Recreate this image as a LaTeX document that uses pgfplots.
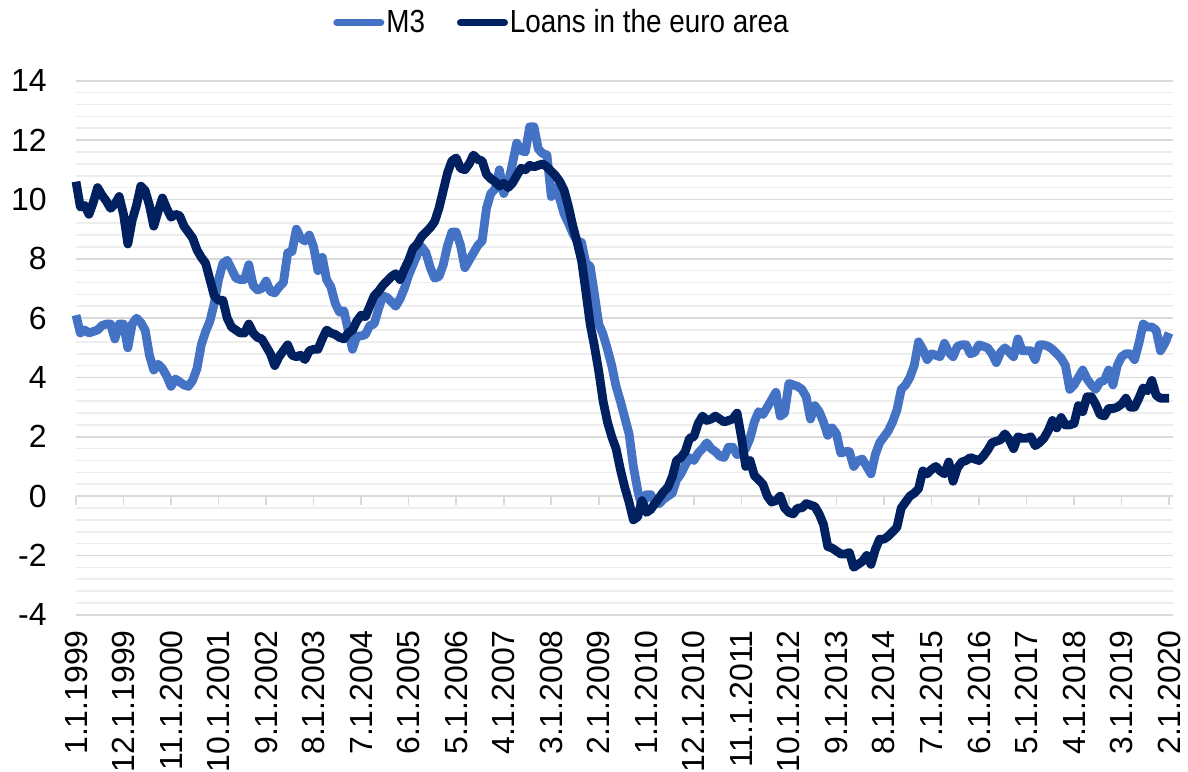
\documentclass[border=0pt]{standalone}
\usepackage{fontspec}
\setmainfont{Liberation Sans}
\newfontfamily\legendfont[FakeStretch=0.87]{Liberation Sans}
\usepackage{pgfplots}
\pgfplotsset{compat=1.18}
\usepackage{pgfplotstable}

\definecolor{mthree}{RGB}{68,114,196}
\definecolor{loans}{RGB}{0,32,96}
\definecolor{majgrid}{RGB}{217,217,217}
\definecolor{mingrid}{RGB}{238,238,238}

% month index (0 = Jan 1999), annual growth in %
\pgfplotstableread{
i v
0 6.1
1 5.5
2 5.6
3 5.5
4 5.55
5 5.6
6 5.75
7 5.8
8 5.8
9 5.3
10 5.8
11 5.8
12 5.0
13 5.8
14 6.0
15 5.85
16 5.6
17 4.75
18 4.25
19 4.45
20 4.3
21 4.05
22 3.7
23 3.95
24 3.85
25 3.75
26 3.7
27 3.9
28 4.3
29 5.1
30 5.55
31 5.9
32 6.5
33 7.3
34 7.85
35 7.95
36 7.65
37 7.35
38 7.3
39 7.3
40 7.8
41 7.1
42 6.95
43 7.0
44 7.25
45 6.9
46 6.85
47 7.05
48 7.2
49 8.2
50 8.25
51 9.0
52 8.7
53 8.6
54 8.8
55 8.4
56 7.6
57 8.05
58 7.3
59 7.05
60 6.5
61 6.2
62 6.25
63 5.6
64 4.95
65 5.4
66 5.4
67 5.45
68 5.75
69 5.8
70 6.3
71 6.75
72 6.7
73 6.55
74 6.4
75 6.65
76 7.0
77 7.45
78 7.8
79 8.15
80 8.4
81 8.2
82 7.7
83 7.35
84 7.4
85 7.8
86 8.45
87 8.9
88 8.9
89 8.45
90 7.7
91 7.95
92 8.2
93 8.45
94 8.6
95 9.7
96 10.2
97 10.35
98 11.0
99 10.2
100 10.55
101 11.2
102 11.9
103 11.65
104 11.6
105 12.45
106 12.45
107 11.7
108 11.55
109 11.5
110 10.1
111 10.4
112 10.0
113 9.5
114 9.2
115 8.85
116 8.6
117 8.55
118 7.85
119 7.75
120 6.8
121 5.8
122 5.45
123 4.95
124 4.4
125 3.7
126 3.2
127 2.65
128 2.1
129 1.0
130 0.2
131 -0.4
132 0.05
133 0.05
134 -0.2
135 -0.25
136 -0.1
137 0.0
138 0.1
139 0.55
140 0.75
141 1.05
142 1.3
143 1.2
144 1.45
145 1.6
146 1.8
147 1.6
148 1.5
149 1.35
150 1.3
151 1.65
152 1.65
153 1.4
154 1.45
155 1.6
156 1.95
157 2.5
158 2.85
159 2.75
160 3.0
161 3.25
162 3.5
163 2.7
164 2.8
165 3.8
166 3.75
167 3.7
168 3.6
169 3.35
170 2.6
171 3.05
172 2.85
173 2.5
174 2.05
175 2.3
176 2.1
177 1.45
178 1.5
179 1.5
180 1.0
181 1.2
182 1.25
183 1.0
184 0.75
185 1.4
186 1.8
187 2.0
188 2.2
189 2.5
190 2.9
191 3.6
192 3.75
193 4.0
194 4.4
195 5.2
196 4.95
197 4.6
198 4.8
199 4.75
200 4.7
201 5.15
202 4.85
203 4.7
204 5.05
205 5.1
206 5.1
207 4.8
208 4.85
209 5.1
210 5.05
211 5.0
212 4.8
213 4.5
214 4.85
215 5.0
216 4.85
217 4.7
218 5.3
219 4.9
220 4.9
221 4.9
222 4.6
223 5.1
224 5.1
225 5.05
226 4.95
227 4.8
228 4.65
229 4.4
230 3.6
231 3.75
232 4.0
233 4.25
234 3.95
235 3.75
236 3.6
237 3.85
238 3.9
239 4.25
240 3.75
241 4.4
242 4.7
243 4.8
244 4.8
245 4.6
246 5.15
247 5.8
248 5.7
249 5.7
250 5.6
251 4.9
252 5.15
253 5.5
}\mthreedata

\pgfplotstableread{
i v
0 10.6
1 9.75
2 9.8
3 9.5
4 9.9
5 10.4
6 10.15
7 9.95
8 9.7
9 9.85
10 10.1
11 9.5
12 8.5
13 9.3
14 9.8
15 10.45
16 10.3
17 9.8
18 9.1
19 9.6
20 10.05
21 9.7
22 9.4
23 9.5
24 9.45
25 9.1
26 8.9
27 8.7
28 8.3
29 8.05
30 7.85
31 7.3
32 6.75
33 6.6
34 6.6
35 6.0
36 5.7
37 5.6
38 5.5
39 5.5
40 5.8
41 5.5
42 5.35
43 5.3
44 5.05
45 4.8
46 4.4
47 4.7
48 4.9
49 5.1
50 4.75
51 4.7
52 4.75
53 4.6
54 4.9
55 4.95
56 4.95
57 5.3
58 5.6
59 5.5
60 5.45
61 5.35
62 5.3
63 5.5
64 5.6
65 5.9
66 6.1
67 6.05
68 6.4
69 6.75
70 6.9
71 7.1
72 7.25
73 7.4
74 7.5
75 7.3
76 7.65
77 7.95
78 8.35
79 8.5
80 8.75
81 8.9
82 9.05
83 9.25
84 9.7
85 10.3
86 10.9
87 11.3
88 11.4
89 11.05
90 11.0
91 11.2
92 11.5
93 11.35
94 11.3
95 10.85
96 10.7
97 10.6
98 10.45
99 10.55
100 10.4
101 10.55
102 10.8
103 11.05
104 11.0
105 11.15
106 11.1
107 11.15
108 11.2
109 11.1
110 10.95
111 10.8
112 10.6
113 10.3
114 9.75
115 9.1
116 8.55
117 7.95
118 6.9
119 5.8
120 5.05
121 4.2
122 3.2
123 2.5
124 2.0
125 1.6
126 0.9
127 0.3
128 -0.2
129 -0.8
130 -0.7
131 -0.15
132 -0.55
133 -0.45
134 -0.25
135 -0.05
136 0.15
137 0.3
138 0.65
139 1.2
140 1.3
141 1.5
142 1.95
143 2.0
144 2.45
145 2.7
146 2.55
147 2.6
148 2.7
149 2.6
150 2.5
151 2.55
152 2.6
153 2.8
154 2.0
155 1.0
156 1.2
157 0.7
158 0.55
159 0.4
160 0.0
161 -0.2
162 -0.15
163 0.0
164 -0.4
165 -0.55
166 -0.6
167 -0.4
168 -0.4
169 -0.25
170 -0.3
171 -0.35
172 -0.6
173 -0.95
174 -1.7
175 -1.75
176 -1.85
177 -1.95
178 -1.95
179 -1.9
180 -2.4
181 -2.3
182 -2.2
183 -2.0
184 -2.3
185 -1.8
186 -1.45
187 -1.45
188 -1.35
189 -1.2
190 -1.05
191 -0.4
192 -0.2
193 0.0
194 0.1
195 0.25
196 0.85
197 0.75
198 0.9
199 1.0
200 0.85
201 0.75
202 1.15
203 0.5
204 0.95
205 1.15
206 1.2
207 1.3
208 1.25
209 1.2
210 1.35
211 1.55
212 1.8
213 1.85
214 1.9
215 2.1
216 1.9
217 1.6
218 2.0
219 1.95
220 1.95
221 2.0
222 1.7
223 1.8
224 1.95
225 2.2
226 2.55
227 2.3
228 2.65
229 2.4
230 2.4
231 2.45
232 3.05
233 2.85
234 3.35
235 3.35
236 3.1
237 2.75
238 2.7
239 2.95
240 2.95
241 3.0
242 3.1
243 3.3
244 3.0
245 3.0
246 3.3
247 3.65
248 3.55
249 3.9
250 3.4
251 3.3
252 3.3
253 3.3
}\loansdata

\begin{document}
\begin{tikzpicture}
\begin{axis}[
font=\fontsize{16}{19}\selectfont,
scale only axis,
width=548.5pt, height=267pt,
xmin=0, xmax=253.9,
ymin=-4, ymax=14,
clip=false,
axis line style={draw=none},
major tick length=0pt,
minor tick length=0pt,
xtick={0,11,...,253},
xticklabels={1.1.1999,12.1.1999,11.1.2000,10.1.2001,9.1.2002,8.1.2003,7.1.2004,6.1.2005,5.1.2006,4.1.2007,3.1.2008,2.1.2009,1.1.2010,12.1.2010,11.1.2011,10.1.2012,9.1.2013,8.1.2014,7.1.2015,6.1.2016,5.1.2017,4.1.2018,3.1.2019,2.1.2020},
xticklabel style={rotate=90, anchor=east, inner sep=0pt},
xticklabel shift=7.5pt,
ytick={-4,-2,...,14},
yticklabels={-4,-2,0,2,4,6,8,10,12,14},
yticklabel style={anchor=east, inner sep=0pt},
yticklabel shift=14.5pt,
minor y tick num=4,
ymajorgrids, yminorgrids,
major grid style={majgrid, line width=0.8pt},
minor grid style={mingrid, line width=0.8pt},
legend columns=2,
legend style={draw=none, fill=none, at={(axis description cs:0.443,1.109)}, anchor=center,
  inner sep=0pt, font=\legendfont\fontsize{16}{19}\selectfont,
  nodes={inner xsep=1pt, inner ysep=2pt},
  /tikz/every even column/.append style={column sep=15pt}},
legend image code/.code={\draw[#1, line width=3.5pt, line cap=round] (0pt,0pt) -- (22pt,0pt);},
]
\pgfplotsinvokeforeach{0,11,...,253}{
  \draw[majgrid, line width=0.8pt] (axis cs:#1,0) -- ([yshift=-4.5pt]axis cs:#1,0);
}
\draw[majgrid, line width=0.8pt] (axis cs:0,0) -- (axis cs:253.9,0);
\addplot[mthree, line width=4.4pt, line join=round] table[x=i, y=v] {\mthreedata};
\addlegendentry{M3}
\addplot[loans, line width=4.4pt, line join=round] table[x=i, y=v] {\loansdata};
\addlegendentry{Loans in the euro area}
\end{axis}
\pgfresetboundingbox
\useasboundingbox (-38pt,-78.5pt) rectangle (556pt,307.4pt);
\end{tikzpicture}
\end{document}
